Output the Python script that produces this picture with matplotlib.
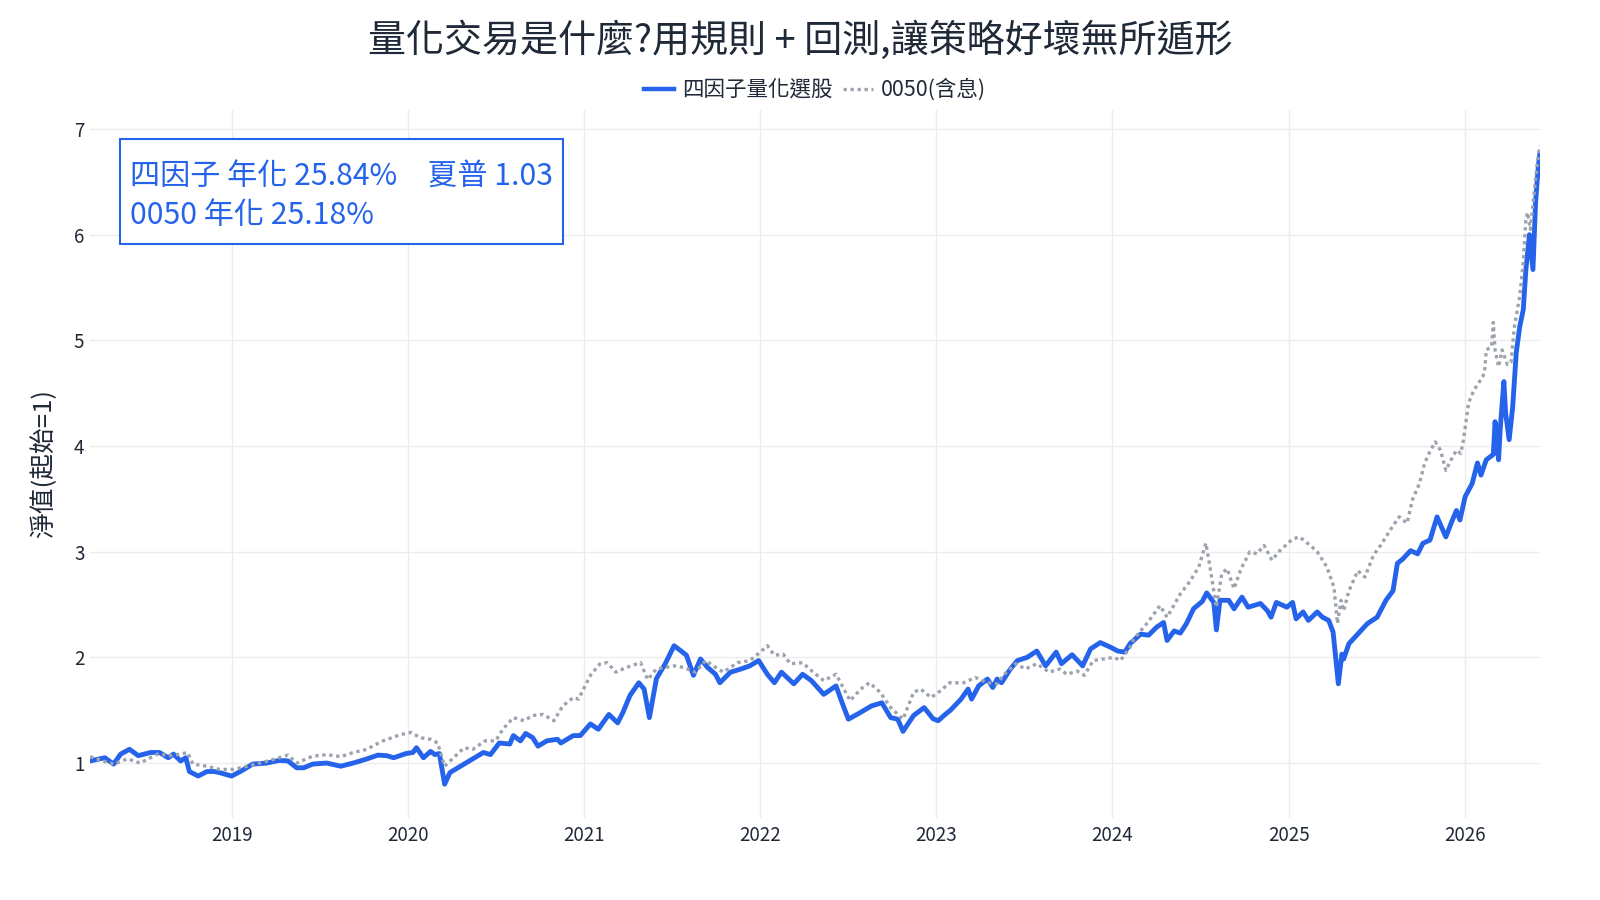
import numpy as np
import pandas as pd
import matplotlib
matplotlib.use("Agg")
import matplotlib.pyplot as plt
from matplotlib.lines import Line2D

plt.rcParams['font.family'] = ['Noto Sans CJK TC', 'DejaVu Sans']

title = "量化交易是什麼?用規則 + 回測,讓策略好壞無所遁形"
series_names = ["四因子量化選股", "0050(含息)"]
y_label = "淨值(起始=1)"
note_lines = ["四因子 年化 25.84%\u3000夏普 1.03", "0050 年化 25.18%"]
year_ticks = [2019, 2020, 2021, 2022, 2023, 2024, 2025, 2026]
y_ticks = [1, 2, 3, 4, 5, 6, 7]

# Four-factor strategy (decimal year, net value)
factor_year = [
    2018.196, 2018.28, 2018.33, 2018.37, 2018.42, 2018.47, 2018.54, 2018.59, 2018.64, 2018.67,
    2018.71, 2018.74, 2018.76, 2018.81, 2018.86, 2018.90, 2018.93, 2019.00, 2019.05, 2019.12,
    2019.20, 2019.27, 2019.32, 2019.37, 2019.41, 2019.46, 2019.54, 2019.62, 2019.69, 2019.77,
    2019.83, 2019.88, 2019.92, 2019.99, 2020.03, 2020.05, 2020.09, 2020.13, 2020.155, 2020.18,
    2020.21, 2020.24, 2020.30, 2020.35, 2020.43, 2020.47, 2020.52, 2020.58, 2020.60, 2020.64,
    2020.67, 2020.71, 2020.74, 2020.79, 2020.85, 2020.87, 2020.94, 2020.98, 2021.035, 2021.08,
    2021.14, 2021.19, 2021.22, 2021.26, 2021.31, 2021.34, 2021.37, 2021.41, 2021.46, 2021.51,
    2021.55, 2021.58, 2021.62, 2021.66, 2021.70, 2021.745, 2021.77, 2021.83, 2021.89, 2021.94,
    2021.99, 2022.04, 2022.08, 2022.12, 2022.19, 2022.24, 2022.29, 2022.36, 2022.43, 2022.46,
    2022.50, 2022.57, 2022.63, 2022.69, 2022.74, 2022.78, 2022.81, 2022.87, 2022.93, 2022.98,
    2023.01, 2023.05, 2023.08, 2023.14, 2023.18, 2023.20, 2023.24, 2023.29, 2023.32, 2023.345,
    2023.37, 2023.42, 2023.46, 2023.515, 2023.57, 2023.62, 2023.68, 2023.71, 2023.77, 2023.83,
    2023.875, 2023.93, 2023.99, 2024.03, 2024.07, 2024.10, 2024.16, 2024.205, 2024.25, 2024.29,
    2024.31, 2024.35, 2024.385, 2024.42, 2024.46, 2024.51, 2024.535, 2024.575, 2024.59, 2024.61,
    2024.66, 2024.69, 2024.735, 2024.77, 2024.84, 2024.88, 2024.90, 2024.93, 2024.99, 2025.02,
    2025.04, 2025.08, 2025.11, 2025.16, 2025.19, 2025.225, 2025.25, 2025.28, 2025.30, 2025.31,
    2025.34, 2025.39, 2025.445, 2025.50, 2025.55, 2025.59, 2025.615, 2025.645, 2025.69, 2025.73,
    2025.76, 2025.80, 2025.84, 2025.89, 2025.92, 2025.95, 2025.97, 2026.00, 2026.04, 2026.07,
    2026.09, 2026.12, 2026.16, 2026.17, 2026.19, 2026.20, 2026.22, 2026.23, 2026.25, 2026.27,
    2026.29, 2026.31, 2026.33, 2026.345, 2026.365, 2026.385, 2026.40, 2026.415, 2026.425,
]
factor_value = [
    1.02, 1.05, 0.99, 1.085, 1.13, 1.07, 1.10, 1.10, 1.05, 1.085,
    1.02, 1.05, 0.92, 0.877, 0.92, 0.92, 0.91, 0.877, 0.92, 0.99,
    1.00, 1.025, 1.02, 0.955, 0.955, 0.99, 1.00, 0.97, 1.00, 1.04,
    1.075, 1.07, 1.05, 1.09, 1.10, 1.145, 1.05, 1.11, 1.08, 1.09,
    0.80, 0.91, 0.97, 1.02, 1.10, 1.08, 1.19, 1.18, 1.26, 1.21,
    1.28, 1.24, 1.16, 1.21, 1.225, 1.19, 1.26, 1.26, 1.37, 1.32,
    1.46, 1.38, 1.48, 1.64, 1.76, 1.70, 1.43, 1.80, 1.94, 2.11,
    2.06, 2.02, 1.83, 1.985, 1.905, 1.84, 1.76, 1.86, 1.89, 1.92,
    1.97, 1.84, 1.76, 1.86, 1.75, 1.84, 1.78, 1.65, 1.73, 1.59,
    1.415, 1.48, 1.54, 1.57, 1.43, 1.415, 1.30, 1.45, 1.525, 1.42,
    1.40, 1.46, 1.50, 1.605, 1.70, 1.605, 1.73, 1.795, 1.715, 1.795,
    1.76, 1.89, 1.97, 2.00, 2.06, 1.92, 2.05, 1.94, 2.025, 1.92,
    2.08, 2.14, 2.095, 2.06, 2.05, 2.13, 2.22, 2.21, 2.285, 2.33,
    2.16, 2.25, 2.23, 2.32, 2.46, 2.53, 2.61, 2.52, 2.26, 2.54,
    2.54, 2.46, 2.57, 2.475, 2.51, 2.44, 2.38, 2.52, 2.475, 2.52,
    2.365, 2.43, 2.35, 2.43, 2.38, 2.35, 2.24, 1.75, 2.03, 1.985,
    2.13, 2.22, 2.32, 2.38, 2.54, 2.63, 2.89, 2.93, 3.01, 2.98,
    3.08, 3.11, 3.33, 3.14, 3.27, 3.39, 3.30, 3.52, 3.645, 3.84,
    3.725, 3.87, 3.92, 4.23, 3.87, 4.18, 4.61, 4.31, 4.06, 4.37,
    4.88, 5.13, 5.29, 5.67, 6.00, 5.67, 6.31, 6.64, 6.78,
]

# 0050 with dividends (decimal year, net value)
etf_year = [
    2018.196, 2018.27, 2018.33, 2018.41, 2018.48, 2018.58, 2018.65, 2018.71, 2018.75, 2018.78,
    2018.86, 2018.93, 2019.01, 2019.09, 2019.16, 2019.24, 2019.32, 2019.37, 2019.46, 2019.54,
    2019.62, 2019.69, 2019.77, 2019.80, 2019.86, 2019.96, 2020.02, 2020.07, 2020.13, 2020.17,
    2020.21, 2020.26, 2020.32, 2020.37, 2020.44, 2020.50, 2020.54, 2020.60, 2020.66, 2020.71,
    2020.77, 2020.83, 2020.88, 2020.94, 2020.97, 2021.035, 2021.09, 2021.13, 2021.18, 2021.24,
    2021.32, 2021.36, 2021.41, 2021.46, 2021.51, 2021.565, 2021.63, 2021.69, 2021.745, 2021.79,
    2021.87, 2021.94, 2022.00, 2022.04, 2022.08, 2022.13, 2022.17, 2022.24, 2022.30, 2022.36,
    2022.43, 2022.47, 2022.51, 2022.57, 2022.62, 2022.68, 2022.74, 2022.81, 2022.87, 2022.91,
    2022.97, 2023.02, 2023.075, 2023.155, 2023.22, 2023.29, 2023.345, 2023.38, 2023.45, 2023.505,
    2023.57, 2023.64, 2023.70, 2023.74, 2023.80, 2023.84, 2023.89, 2023.95, 2024.01, 2024.045,
    2024.10, 2024.12, 2024.16, 2024.20, 2024.27, 2024.31, 2024.385, 2024.44, 2024.49, 2024.53,
    2024.55, 2024.59, 2024.62, 2024.65, 2024.69, 2024.73, 2024.78, 2024.82, 2024.86, 2024.905,
    2024.95, 2025.02, 2025.06, 2025.12, 2025.16, 2025.215, 2025.255, 2025.275, 2025.295, 2025.31,
    2025.34, 2025.39, 2025.43, 2025.48, 2025.52, 2025.58, 2025.625, 2025.67, 2025.70, 2025.74,
    2025.77, 2025.80, 2025.83, 2025.86, 2025.89, 2025.92, 2025.95, 2025.975, 2025.99, 2026.02,
    2026.05, 2026.09, 2026.11, 2026.12, 2026.15, 2026.16, 2026.17, 2026.19, 2026.21, 2026.24,
    2026.26, 2026.28, 2026.31, 2026.33, 2026.345, 2026.355, 2026.37, 2026.39, 2026.41, 2026.425,
]
etf_value = [
    1.06, 1.02, 0.99, 1.04, 1.00, 1.085, 1.07, 1.085, 1.10, 0.99,
    0.97, 0.94, 0.94, 0.97, 1.00, 1.035, 1.075, 1.00, 1.065, 1.08,
    1.06, 1.10, 1.13, 1.16, 1.21, 1.27, 1.29, 1.24, 1.225, 1.19,
    0.97, 1.05, 1.145, 1.13, 1.21, 1.21, 1.32, 1.43, 1.40, 1.45,
    1.46, 1.40, 1.54, 1.62, 1.605, 1.83, 1.94, 1.95, 1.86, 1.905,
    1.95, 1.79, 1.89, 1.905, 1.92, 1.905, 1.86, 1.97, 1.905, 1.86,
    1.95, 1.97, 2.05, 2.11, 2.02, 2.03, 1.94, 1.95, 1.86, 1.78,
    1.84, 1.715, 1.59, 1.70, 1.76, 1.67, 1.525, 1.415, 1.67, 1.70,
    1.62, 1.68, 1.76, 1.76, 1.81, 1.76, 1.75, 1.83, 1.94, 1.89,
    1.94, 1.86, 1.89, 1.84, 1.87, 1.83, 1.97, 1.985, 2.00, 1.97,
    2.095, 2.17, 2.25, 2.33, 2.49, 2.38, 2.60, 2.72, 2.855, 3.08,
    2.89, 2.475, 2.79, 2.84, 2.65, 2.84, 3.00, 2.98, 3.06, 2.92,
    3.01, 3.12, 3.14, 3.06, 3.00, 2.855, 2.665, 2.32, 2.54, 2.44,
    2.63, 2.82, 2.76, 2.97, 3.06, 3.22, 3.33, 3.27, 3.49, 3.645,
    3.84, 3.95, 4.04, 3.96, 3.77, 3.87, 3.96, 3.93, 4.06, 4.41,
    4.53, 4.63, 4.69, 4.91, 4.94, 5.17, 4.91, 4.75, 4.91, 4.77,
    4.79, 5.13, 5.42, 5.74, 6.15, 6.21, 6.05, 6.37, 6.69, 6.84,
]


def to_dates(years):
    out = []
    for y in years:
        base = int(np.floor(y))
        out.append(pd.Timestamp(f"{base}-01-01") + pd.Timedelta(days=(y - base) * 365.25))
    return pd.to_datetime(out)


factor_dates = to_dates(factor_year)
etf_dates = to_dates(etf_year)

BLUE = "#2563eb"
GREY = "#9ca3af"
TXT = "#1f2937"

W, H = 1600, 900
fig = plt.figure(figsize=(16, 9), dpi=100)
ax = fig.add_axes([90 / W, (H - 818) / H, (1540 - 90) / W, (818 - 110) / H])

ax.plot(factor_dates, factor_value, color=BLUE, lw=3.5, solid_joinstyle="round", zorder=3)
ax.plot(etf_dates, etf_value, color=GREY, lw=2.4, linestyle=(0, (1, 1.1)),
        dash_capstyle="butt", zorder=4)

ax.set_xlim(factor_dates[0], factor_dates[-1])
ax.set_ylim(0.48, 7.18)
ax.set_xticks(pd.to_datetime([f"{y}-01-01" for y in year_ticks]))
ax.set_xticklabels([str(y) for y in year_ticks])
ax.set_yticks(y_ticks)
ax.set_yticklabels([str(v) for v in y_ticks])

for s in ax.spines.values():
    s.set_visible(False)
ax.grid(True, color="#ececec", lw=1.0, zorder=0)
ax.set_axisbelow(True)
ax.tick_params(axis="both", length=0, labelsize=13.5, labelcolor=TXT)
ax.tick_params(axis="x", pad=5)
ax.tick_params(axis="y", pad=4)

ax.set_ylabel(y_label, fontsize=18.5, color=TXT)
ax.yaxis.set_label_coords((57 - 90) / 1450, 0.5)

fig.text(0.5, 1 - 41 / H, title, ha="center", va="center", fontsize=27.4, color=TXT)

handles = [
    Line2D([], [], color=BLUE, lw=3.2),
    Line2D([], [], color=GREY, lw=2.4, linestyle=(0, (1, 1.1)), dash_capstyle="butt"),
]
fig.legend(handles, series_names, loc="center", bbox_to_anchor=(815 / W, 1 - 90 / H),
           ncol=2, frameon=False, fontsize=15.5, handlelength=1.4, handletextpad=0.35,
           columnspacing=0.5, labelcolor=TXT)

# annotation box
box = plt.Rectangle((120 / W, 1 - 244 / H), (563 - 120) / W, (244 - 139) / H,
                    transform=fig.transFigure, fill=True, facecolor="white",
                    edgecolor=BLUE, lw=1.5, zorder=5)
fig.add_artist(box)
fig.text(130 / W, 1 - 176 / H, note_lines[0], ha="left", va="center", fontsize=21.7,
         color=BLUE, zorder=6)
fig.text(130 / W, 1 - 215 / H, note_lines[1], ha="left", va="center", fontsize=21.7,
         color=BLUE, zorder=6)

fig.savefig("out.png", dpi=100, facecolor="white")
